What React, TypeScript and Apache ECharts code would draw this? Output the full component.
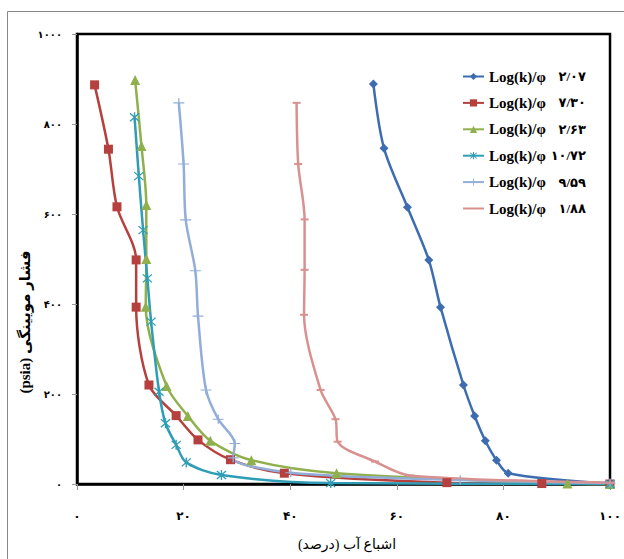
import React, { useEffect, useRef } from "react";
import * as echarts from "echarts";

// ---- data (water saturation %, capillary pressure psia) ----
const blueData: number[][] = [
  [55.6, 889], [57.6, 746], [62.0, 615], [66.0, 498], [68.2, 393], [72.5, 220],
  [74.6, 151], [76.6, 96], [78.7, 53], [80.9, 24], [100, 1],
];
const redData: number[][] = [
  [3.3, 887], [5.9, 744], [7.5, 616], [11.1, 498], [11.1, 393], [13.5, 220],
  [18.6, 152], [22.7, 98], [28.8, 54], [38.9, 24], [69.4, 3], [87.2, 1], [100, 0],
];
const greenData: number[][] = [
  [10.9, 898], [12.1, 751], [13.0, 620], [13.0, 500], [12.9, 394], [16.8, 218],
  [20.8, 151], [25.0, 96], [32.7, 53], [48.7, 24], [92, 1], [100, 0],
];
const cyanData: number[][] = [
  [10.8, 815], [11.6, 684], [12.4, 564], [13.2, 457], [13.9, 361], [15.4, 205],
  [16.6, 135], [18.6, 87], [20.5, 48], [27.1, 20], [47.6, 2], [100, 0],
];
const lightBlueData: number[][] = [
  [19.1, 847], [20.0, 711], [20.4, 587], [22.2, 474], [22.7, 373], [24.2, 209],
  [26.5, 144], [29.6, 90], [29.3, 58], [40.1, 25], [71.9, 9], [100, 2],
];
const pinkData: number[][] = [
  [41.2, 847], [41.5, 711], [42.7, 588], [42.7, 476], [42.6, 376], [45.7, 209],
  [48.5, 144], [48.9, 94], [55.9, 50], [62.4, 19], [100, 3],
];

const seriesNames = ["Log(k)/φ", "Log(k)/φ", "Log(k)/φ", "Log(k)/φ", "Log(k)/φ", "Log(k)/φ"];
const seriesValues = ["۲/۰۷", "۷/۳۰", "۲/۶۳", "۱۰/۷۲", "۹/۵۹", "۱/۸۸"];
const xTickLabels = ["۰", "۲۰", "۴۰", "۶۰", "۸۰", "۱۰۰"];
const yTickLabels = ["۰", "۲۰۰", "۴۰۰", "۶۰۰", "۸۰۰", "۱۰۰۰"];
const xTitle = "اشباع آب (درصد)";
const yTitle = "(psia) فشار مویینگی";

const SERIF = "'Times New Roman', 'Liberation Serif', 'DejaVu Sans', serif";

const PLUS = "path://M0,4.4h10v1.2H0z M4.4,0h1.2v10H4.4z";
const DASH = "path://M0,0h10v2H0z";
const ASTER =
  "path://M4.4,0h1.2v10H4.4z M0.6,1.4L1.4,0.6L9.4,8.6L8.6,9.4z M8.6,0.6L9.4,1.4L1.4,9.4L0.6,8.6z";

export default function App() {
  const ref = useRef<HTMLDivElement>(null);
  useEffect(() => {
    if (!ref.current) return;
    const chart = echarts.init(ref.current, undefined, { renderer: "svg" });
    const datasets = [blueData, redData, greenData, cyanData, lightBlueData, pinkData];
    const colors = ["#3D6DB0", "#B5403D", "#8FB04C", "#2F9DB6", "#92AED8", "#D99190"];
    const symbols = ["diamond", "rect", "triangle", ASTER, PLUS, DASH];
    const sizes: any[] = [9, 9, 10, 10, [11, 9], [8, 2]];
    const series = datasets.map((d, i) => ({
      type: "line",
      name: seriesNames[i] + "|" + i,
      data: d,
      smooth: 0.3,
      clip: false,
      symbol: symbols[i],
      symbolSize: sizes[i],
      showSymbol: true,
      lineStyle: { color: colors[i], width: 2.5 },
      itemStyle: { color: colors[i] },
      emphasis: { disabled: true },
    }));
    const legendData = series.map((s, i) =>
      i === 5
        ? { name: s.name, itemStyle: { color: "rgba(0,0,0,0)", borderWidth: 0 } }
        : { name: s.name }
    );
    chart.setOption({
      animation: false,
      backgroundColor: "#fff",
      grid: {
        left: 77,
        top: 34,
        right: 8,
        bottom: 75,
        show: true,
        borderColor: "#000",
        borderWidth: 2.5,
      },
      xAxis: {
        type: "value",
        min: 0,
        max: 100,
        interval: 20,
        axisLine: { show: true, lineStyle: { color: "#000", width: 2.5 } },
        axisTick: { show: true, length: 6, lineStyle: { color: "#999", width: 1 } },
        splitLine: { show: false },
        axisLabel: {
          margin: 26,
          fontSize: 12,
          fontWeight: "bold",
          color: "#000",
          fontFamily: SERIF,
          formatter: (v: number) => xTickLabels[Math.round(v / 20)],
        },
      },
      yAxis: {
        type: "value",
        min: 0,
        max: 1000,
        interval: 200,
        axisLine: { show: true, lineStyle: { color: "#000", width: 2.5 } },
        axisTick: { show: true, length: 5, lineStyle: { color: "#999", width: 1 } },
        splitLine: { show: false },
        axisLabel: {
          margin: 15,
          fontSize: 10,
          fontWeight: "bold",
          color: "#000",
          fontFamily: SERIF,
          formatter: (v: number) => yTickLabels[Math.round(v / 200)],
        },
      },
      legend: {
        orient: "vertical",
        left: 457,
        top: 64,
        itemWidth: 21,
        itemHeight: 9,
        itemGap: 11.4,
        selectedMode: false,
        data: legendData,
        formatter: (name: string) => {
          const i = Number(name.split("|")[1]);
          return "{a|" + seriesNames[i] + "}{b|" + seriesValues[i] + "}";
        },
        textStyle: {
          color: "#000",
          rich: {
            a: { fontFamily: SERIF, fontWeight: "bold", fontSize: 15, width: 60, color: "#000" },
            b: { fontFamily: SERIF, fontWeight: "bold", fontSize: 13, width: 37, align: "right", color: "#000" },
          },
        },
      },
      graphic: [
        {
          type: "rect",
          silent: true,
          shape: { x: 7.5, y: 11.5, width: 700, height: 700 },
          style: { fill: "none", stroke: "#888", lineWidth: 1 },
          z: -10,
        },
        {
          type: "text",
          x: 347,
          y: 544,
          style: {
            text: xTitle,
            fill: "#000",
            font: "14px " + SERIF,
            textAlign: "center",
            textVerticalAlign: "middle",
          },
        },
        {
          type: "text",
          x: 25,
          y: 322,
          rotation: Math.PI / 2,
          style: {
            text: yTitle,
            fill: "#000",
            font: "bold 15px " + SERIF,
            textAlign: "center",
            textVerticalAlign: "middle",
          },
        },
      ],
      series,
    });
    return () => chart.dispose();
  }, []);
  return (
    <div
      ref={ref}
      style={{ position: "fixed", left: 0, top: 0, width: 624, height: 559 }}
    />
  );
}
